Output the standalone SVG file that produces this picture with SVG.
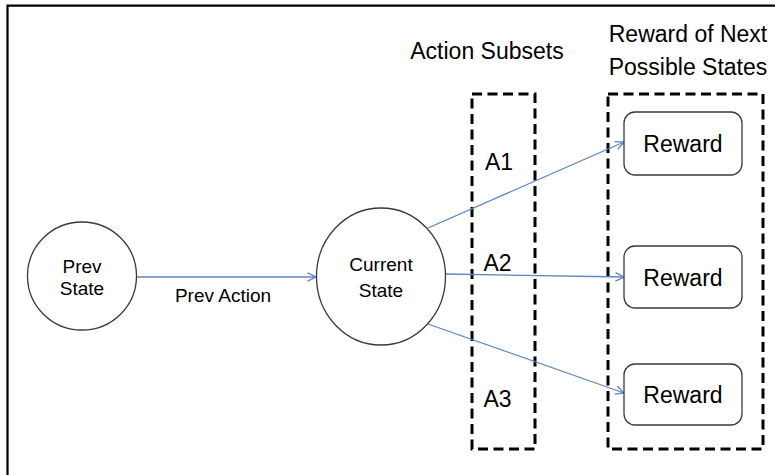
<svg xmlns="http://www.w3.org/2000/svg" width="775" height="475" viewBox="0 0 775 475">
  <style>
    text { font-family: "Liberation Sans", Arial, sans-serif; fill: #000; text-anchor: middle; }
    .state { fill: #fff; stroke: #3a3a3a; stroke-width: 1.3; }
    .reward { fill: #fff; stroke: #3a3a3a; stroke-width: 1.3; }
    .group { fill: none; stroke: #000; stroke-width: 3; stroke-dasharray: 10 5.5; }
    .edge { fill: none; stroke: #5b87c2; stroke-width: 1.3; marker-end: url(#arrow); }
    .s19 { font-size: 19px; }
    .s23 { font-size: 23px; }
  </style>
  <defs>
    <marker id="arrow" viewBox="0 0 10 10" refX="9.5" refY="5" markerWidth="10" markerHeight="10" markerUnits="userSpaceOnUse" orient="auto">
      <path d="M1,0.8 L9.5,5 L1,9.2" fill="none" stroke="#5b87c2" stroke-width="1.3"/>
    </marker>
  </defs>
  <rect width="775" height="475" fill="#fff"/>
  <path d="M7.5,476 V5.7 H776" fill="none" stroke="#000" stroke-width="2.2"/>

  <g id="label-action-subsets"><text class="s23" x="487" y="59">Action Subsets</text></g>
  <g id="label-reward-next">
    <text class="s23" x="688" y="42">Reward of Next</text>
    <text class="s23" x="688" y="75">Possible States</text>
  </g>

  <g id="group-action-subsets"><rect class="group" x="472" y="94" width="63" height="355"/></g>
  <g id="group-rewards"><rect class="group" x="608" y="94" width="155" height="355"/></g>

  <g id="connectors">
    <line class="edge" x1="137" y1="277" x2="316" y2="277"/>
    <line class="edge" x1="428" y1="228" x2="624" y2="142"/>
    <line class="edge" x1="446" y1="274" x2="624" y2="277"/>
    <line class="edge" x1="428" y1="324" x2="624" y2="393"/>
    <text class="s19" x="223" y="302">Prev Action</text>
  </g>

  <g id="node-prev-state">
    <ellipse class="state" cx="82" cy="276" rx="54.5" ry="54"/>
    <text class="s19" x="82" y="273">Prev</text>
    <text class="s19" x="82" y="295">State</text>
  </g>
  <g id="node-current-state">
    <ellipse class="state" cx="381" cy="276.5" rx="64.5" ry="68.5"/>
    <text class="s19" x="381" y="271">Current</text>
    <text class="s19" x="381" y="297">State</text>
  </g>

  <g id="label-a1"><text class="s23" x="499" y="170">A1</text></g>
  <g id="label-a2"><text class="s23" x="497.5" y="271">A2</text></g>
  <g id="label-a3"><text class="s23" x="497.5" y="407">A3</text></g>

  <g id="node-reward-1">
    <rect class="reward" x="624" y="112" width="118" height="63" rx="11"/>
    <text class="s23" x="683" y="152">Reward</text>
  </g>
  <g id="node-reward-2">
    <rect class="reward" x="624" y="246" width="118" height="62" rx="11"/>
    <text class="s23" x="683" y="285.5">Reward</text>
  </g>
  <g id="node-reward-3">
    <rect class="reward" x="624" y="364" width="118" height="61" rx="11"/>
    <text class="s23" x="683" y="403">Reward</text>
  </g>
</svg>
